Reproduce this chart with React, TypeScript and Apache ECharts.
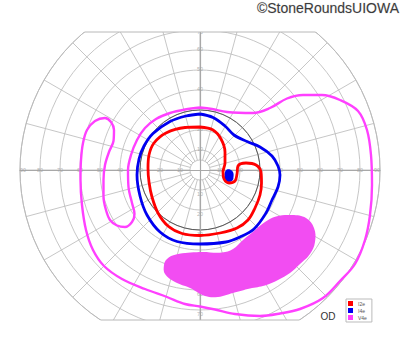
import React, { useEffect, useRef } from "react";
import * as echarts from "echarts";

// tick labels (degrees of eccentricity)
const horizontalTicks = [10, 20, 30, 40, 50, 60, 70, 80, 90];
const verticalTicks = [10, 20, 30, 40, 50, 60, 70];

// isopters, points in visual-field degrees [x (temporal right +), y (up +)]
const isoI2e: [number, number][] = [
  [0, 21.5], [6.5, 20], [10.5, 15.5], [12.5, 9], [12.5, 3.5], [11.5, -1], [12, -4.5],
  [14.5, -6.5], [17.5, -5.5], [18.5, -2], [19, 2], [23, 3.5], [28, 2.5], [30.5, -1],
  [30.75, -6.5], [30, -12.5], [27.5, -19], [24, -25], [18.5, -29], [10, -31.5], [0, -32.75],
  [-9, -31.75], [-16, -28], [-21, -21.5], [-24, -13.5], [-25.5, -6], [-26, 1], [-25.5, 7.5],
  [-23, 13.5], [-17, 18.5], [-7.5, 21.25], [0, 21.5],
];

const isoI4e: [number, number][] = [
  [0, 28], [6.5, 26.25], [12.5, 22], [17, 17.5], [23.5, 14.25], [30, 11.5], [36, 7],
  [39, 2], [40, -2.5], [39, -8.5], [36, -15], [33, -21.5], [27, -29.5], [20, -33.5],
  [13, -36], [0, -37], [-11.5, -35.75], [-20, -31], [-26.5, -22.5], [-30, -13], [-31.5, -2.5],
  [-30.5, 5.5], [-28, 12], [-23.5, 18.25], [-15, 24.25], [-7, 27], [0, 28],
];

const spotI4e: [number, number][] = [
  [12.5, -1], [13.5, 0.25], [15, 0.25], [16.5, -1], [16.75, -3.5], [16, -5.5], [14, -6],
  [12.5, -5], [12.25, -3],
];

const isoV4e: [number, number][] = [
  [0, 31.25], [-7.5, 30.25], [-15, 28.5], [-22, 25.5], [-27.5, 21], [-31.5, 15], [-34.5, 7.5],
  [-36, 0], [-35.75, -8.5], [-34, -16.5], [-32.75, -22], [-34, -26], [-37.5, -28.5],
  [-41.5, -27.75], [-45, -25], [-47, -20], [-48.25, -13.5], [-48.25, -5], [-47.5, 2.5],
  [-45.5, 9], [-43.25, 14.5], [-43, 20], [-44.5, 24], [-47.5, 26], [-52.5, 24.5], [-56.5, 20],
  [-58.5, 13.5], [-59.5, 5], [-59.75, -5], [-59, -17.5], [-57, -30], [-53.5, -40], [-48, -48],
  [-39, -54.5], [-27.5, -59.5], [-16.5, -63.5], [-7.5, -67], [0, -68.25], [7.5, -69.75],
  [17.5, -72], [30, -73], [40, -71.75], [50, -69.5], [61.5, -64], [70, -55.5], [77.5, -47],
  [82.5, -35], [85, -22.5], [86, -7.5], [85.5, 7.5], [83.5, 20], [79, 29.5], [70, 35],
  [61, 37.5], [51.5, 37.5], [43.5, 35.75], [35, 31], [26.5, 28.5], [13.5, 29], [6, 30.5],
  [0, 31.25],
];

const scotomaV4e: [number, number][] = [
  [-16.5, -44.5], [-12, -42.25], [0, -41], [11, -41.25], [16.5, -39.5], [21.5, -35],
  [27, -30.5], [32.5, -26], [38, -23.25], [46, -22.5], [53, -24], [57, -29], [57.5, -36],
  [55, -42], [50, -47], [45, -51.5], [39, -55], [32.5, -57.75], [25, -59.25], [16.5, -61.5],
  [9, -63.5], [2.5, -63], [-5, -59], [-12.5, -56], [-17.5, -52], [-18, -47.5],
];

const RED = "#ff0000";
const BLUE = "#0000f0";
const MAGENTA = "#ff40ff";
const MAGENTA_FILL = "#f24df2";
const GRID = "#b8b8b8";

export default function App() {
  const ref = useRef<HTMLDivElement>(null);

  useEffect(() => {
    document.body.style.margin = "0";
    const chart = echarts.init(ref.current!, null, { renderer: "svg" });

    const cx = 200;
    const cy = 170;
    const R = 180;
    const topY = 32;
    const botY = 320;
    const half = (y: number) => Math.sqrt(R * R - (y - cy) * (y - cy));

    const hidden = { show: false };
    const polygonSeries = (name: string, pts: [number, number][], color: string) => ({
      type: "custom",
      name,
      coordinateSystem: "cartesian2d",
      silent: true,
      z: 4,
      itemStyle: { color },
      data: pts,
      encode: { x: 0, y: 1 },
      renderItem: (params: any, api: any) => {
        if (params.dataIndex !== 0) return null;
        return {
          type: "polygon",
          shape: { points: pts.map((p) => api.coord(p)), smooth: 0.4 },
          style: { fill: color },
        };
      },
    });
    const lineSeries = (name: string, pts: [number, number][], color: string, width: number) => ({
      type: "line",
      name,
      data: pts,
      color,
      smooth: 0.35,
      symbol: "none",
      silent: true,
      z: 5,
      lineStyle: { color, width },
    });
    const clampH = (v: number) => Math.min(v, 88.5);
    const labelSeries = (data: number[][], offset: number[]) => ({
      type: "scatter",
      data,
      symbolSize: 0,
      silent: true,
      z: 3,
      label: {
        show: true,
        position: "inside",
        offset,
        formatter: (p: any) => String(p.value[2]),
        fontSize: 5.5,
        color: "#a0a0a0",
        fontFamily: "Liberation Sans",
      },
    });

    const option: any = {
      animation: false,
      polar: [
        { center: [cx, cy], radius: [10, R] },
        { center: [cx, cy], radius: R },
        { center: [cx, cy], radius: 10 },
        { center: [cx, cy], radius: 60 },
      ],
      angleAxis: [
        {
          polarIndex: 0, type: "value", min: 0, max: 360, interval: 15,
          axisLine: hidden, axisTick: hidden, axisLabel: hidden,
          splitLine: { show: true, lineStyle: { color: GRID, width: 0.8 } },
        },
        {
          polarIndex: 1, type: "value", min: 0, max: 360, interval: 90,
          axisLine: { show: true, lineStyle: { color: GRID, width: 0.9 } },
          axisTick: hidden, axisLabel: hidden, splitLine: hidden,
        },
        {
          polarIndex: 2, type: "value", min: 0, max: 360, interval: 90,
          axisLine: { show: true, lineStyle: { color: GRID, width: 0.8 } },
          axisTick: hidden, axisLabel: hidden, splitLine: hidden,
        },
        {
          polarIndex: 3, type: "value", min: 0, max: 360, interval: 90,
          axisLine: { show: true, lineStyle: { color: "#555555", width: 1 } },
          axisTick: hidden, axisLabel: hidden, splitLine: hidden,
        },
      ],
      radiusAxis: [
        { polarIndex: 0, min: 0, max: 90, show: false },
        {
          polarIndex: 1, type: "value", min: 0, max: 90, interval: 10,
          axisLine: hidden, axisTick: hidden, axisLabel: hidden,
          splitLine: { show: true, lineStyle: { color: GRID, width: 0.8 } },
        },
        { polarIndex: 2, min: 0, max: 90, show: false },
        { polarIndex: 3, min: 0, max: 90, show: false },
      ],
      grid: { left: cx - R, top: 0, width: 2 * R, height: 340 },
      xAxis: {
        type: "value", min: -90, max: 90,
        axisLine: { show: true, onZero: true, lineStyle: { color: "#a8a8a8", width: 1.2 } },
        axisTick: hidden, axisLabel: hidden, splitLine: hidden,
      },
      yAxis: {
        type: "value", min: -85, max: 85,
        axisLine: { show: true, onZero: true, lineStyle: { color: "#a8a8a8", width: 1.2 } },
        axisTick: hidden, axisLabel: hidden, splitLine: hidden,
      },
      legend: {
        data: ["I2e", "I4e", "V4e"],
        orient: "vertical",
        left: 346,
        top: 299,
        icon: "rect",
        itemWidth: 5,
        itemHeight: 5,
        itemGap: 2,
        selectedMode: false,
        backgroundColor: "#ffffff",
        borderColor: "#bbbbbb",
        borderWidth: 1,
        borderRadius: 0,
        padding: [2, 5, 2, 2],
        z: 60,
        textStyle: { fontSize: 5, color: "#555555", fontFamily: "Liberation Sans" },
      },
      graphic: [
        { type: "rect", z: 40, silent: true, shape: { x: 0, y: 0, width: 400, height: topY }, style: { fill: "#ffffff" } },
        { type: "rect", z: 40, silent: true, shape: { x: 0, y: botY, width: 400, height: 352 - botY }, style: { fill: "#ffffff" } },
        {
          type: "line", z: 41, silent: true,
          shape: { x1: cx - half(topY), y1: topY, x2: cx + half(topY), y2: topY },
          style: { stroke: GRID, lineWidth: 1 },
        },
        {
          type: "line", z: 41, silent: true,
          shape: { x1: cx - half(botY), y1: botY, x2: cx + half(botY), y2: botY },
          style: { stroke: GRID, lineWidth: 1 },
        },
        {
          type: "text", z: 42, silent: true, x: 399, y: 8,
          style: {
            text: "©StoneRoundsUIOWA", align: "right", verticalAlign: "middle",
            fontSize: 14, fontFamily: "Liberation Sans", fill: "#3c3c3c",
            stroke: "#d8d8d8", lineWidth: 0.6,
          },
        },
        {
          type: "text", z: 42, silent: true, x: 328, y: 316.5,
          style: {
            text: "OD", align: "center", verticalAlign: "middle",
            fontSize: 10, fontFamily: "Liberation Sans", fill: "#333333",
          },
        },
      ],
      series: [
        lineSeries("I2e", isoI2e, RED, 2.8),
        lineSeries("I4e", isoI4e, BLUE, 2.8),
        polygonSeries("I4e", spotI4e, BLUE),
        lineSeries("V4e", isoV4e, MAGENTA, 2.4),
        polygonSeries("V4e", scotomaV4e, MAGENTA_FILL),
        labelSeries(
          horizontalTicks.flatMap((v) => [[-clampH(v), 0, v], [clampH(v), 0, v]]),
          [0, -0.5]
        ),
        labelSeries(verticalTicks.map((v) => [0, Math.min(v, 68.5), v]), [0, -1]),
        labelSeries(verticalTicks.map((v) => [0, -v, v]), [0, 3.5]),
      ],
    };

    chart.setOption(option);
    return () => chart.dispose();
  }, []);

  return <div ref={ref} style={{ width: 400, height: 352 }} />;
}
